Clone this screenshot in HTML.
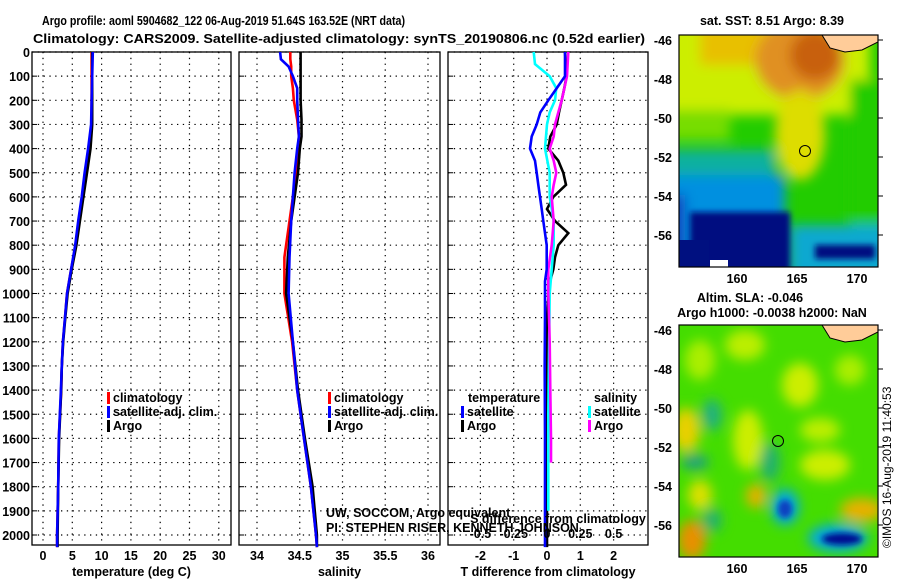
<!DOCTYPE html>
<html><head><meta charset="utf-8"><style>
html,body{margin:0;padding:0;background:#fff;}
svg{display:block;font-family:"Liberation Sans",sans-serif;}
.t{font-size:13px;font-weight:bold;}
.tk{font-size:12.5px;font-weight:bold;}
</style></head><body>
<svg id="fig" width="900" height="580" viewBox="0 0 900 580">
<defs>
<filter id="bl" x="-50%" y="-50%" width="200%" height="200%"><feGaussianBlur stdDeviation="6"/></filter>
<filter id="bl2" x="-50%" y="-50%" width="200%" height="200%"><feGaussianBlur stdDeviation="3"/></filter>
<clipPath id="c1"><rect x="679" y="35" width="199" height="232"/></clipPath>
<clipPath id="c2"><rect x="679" y="325" width="199" height="232"/></clipPath>
</defs>
<text class="t" x="42" y="25" textLength="363" lengthAdjust="spacingAndGlyphs">Argo profile: aoml 5904682_122 06-Aug-2019 51.64S 163.52E (NRT data)</text>
<text class="t" x="33" y="43" textLength="612" lengthAdjust="spacingAndGlyphs">Climatology: CARS2009. Satellite-adjusted climatology: synTS_20190806.nc (0.52d earlier)</text>
<g id="charts"></g>
<g id="maps">
 <g clip-path="url(#c1)">
  <rect x="679" y="35" width="199" height="232" fill="#22cc00"/>
  <g filter="url(#bl)">
   <rect x="660" y="20" width="210" height="95" fill="#ccee00"/>
   <rect x="700" y="25" width="130" height="40" fill="#e8c000"/>
   <ellipse cx="800" cy="60" rx="45" ry="40" fill="#e09020"/>
   <ellipse cx="815" cy="55" rx="25" ry="25" fill="#c86010"/>
   <ellipse cx="800" cy="135" rx="25" ry="45" fill="#dddd00"/>
   <rect x="660" y="110" width="70" height="30" fill="#77dd00"/>
   <rect x="850" y="80" width="40" height="150" fill="#22cc00"/>
   <rect x="660" y="150" width="115" height="60" fill="#10b0a0"/>
   <rect x="660" y="175" width="125" height="100" fill="#0090e0"/>
   <rect x="660" y="195" width="25" height="60" fill="#1040c0"/>
   <rect x="790" y="225" width="100" height="60" fill="#10a8d0"/>
  </g>
  <rect x="690" y="212" width="100" height="60" fill="#001080" filter="url(#bl2)"/>
  <rect x="679" y="240" width="30" height="30" fill="#001080"/>
  <rect x="815" y="245" width="60" height="14" fill="#001080" filter="url(#bl2)"/>
  <path d="M822,35 L878,35 L878,42 L862,50 L845,52 L830,48 Z" fill="#ffcc99" stroke="#000" stroke-width="1"/>
  <rect x="710" y="260" width="18" height="7" fill="#fff"/>
  <circle cx="805" cy="151" r="5.5" fill="none" stroke="#000" stroke-width="1"/>
 </g>
 <rect x="679" y="35" width="199" height="232" fill="none" stroke="#000" stroke-width="1.2"/>
 <g clip-path="url(#c2)">
  <rect x="679" y="325" width="199" height="232" fill="#44dd00"/>
  <g filter="url(#bl)">
   <ellipse cx="700" cy="360" rx="15" ry="20" fill="#aaee00"/>
   <ellipse cx="745" cy="345" rx="20" ry="15" fill="#bbee00"/>
   <ellipse cx="800" cy="385" rx="18" ry="22" fill="#ccee00"/>
   <ellipse cx="850" cy="370" rx="15" ry="15" fill="#aaee00"/>
   <ellipse cx="686" cy="430" rx="14" ry="22" fill="#e8d000"/>
   <ellipse cx="748" cy="440" rx="15" ry="30" fill="#ccee00"/>
   <ellipse cx="820" cy="430" rx="20" ry="12" fill="#bbee00"/>
   <ellipse cx="700" cy="495" rx="12" ry="15" fill="#dde000"/>
   <ellipse cx="756" cy="496" rx="10" ry="12" fill="#e8b000"/>
   <ellipse cx="692" cy="540" rx="14" ry="20" fill="#e89000"/>
   <ellipse cx="862" cy="510" rx="22" ry="12" fill="#e8b000"/>
   <ellipse cx="825" cy="465" rx="25" ry="15" fill="#ccee00"/>
   <ellipse cx="712" cy="415" rx="10" ry="16" fill="#20b080"/>
   <ellipse cx="695" cy="462" rx="14" ry="8" fill="#20a080"/>
   <ellipse cx="770" cy="462" rx="10" ry="20" fill="#20b070"/>
   <ellipse cx="712" cy="520" rx="10" ry="12" fill="#20b070"/>
   <ellipse cx="785" cy="507" rx="14" ry="18" fill="#00a8e0"/>
   <ellipse cx="838" cy="538" rx="30" ry="14" fill="#00a8e0"/>
  </g>
  <ellipse cx="785" cy="509" rx="7" ry="9" fill="#1040c0" filter="url(#bl2)"/>
  <ellipse cx="842" cy="539" rx="20" ry="6" fill="#001090" filter="url(#bl2)"/>
  <path d="M822,325 L878,325 L878,332 L862,340 L845,342 L830,338 Z" fill="#ffcc99" stroke="#000" stroke-width="1"/>
  <circle cx="778" cy="441" r="5.5" fill="none" stroke="#000" stroke-width="1"/>
 </g>
 <rect x="679" y="325" width="199" height="232" fill="none" stroke="#000" stroke-width="1.2"/>
 <text class="tk" x="772" y="25" text-anchor="middle">sat. SST: 8.51  Argo: 8.39</text>
 <text class="tk" x="750" y="302" text-anchor="middle">Altim. SLA: -0.046</text>
 <text class="tk" x="772" y="317" text-anchor="middle">Argo h1000: -0.0038 h2000: NaN</text>
 <text x="891" y="548" font-size="12" transform="rotate(-90 891 548)">©IMOS 16-Aug-2019 11:40:53</text>
</g>
</svg>
<script>
// ---------- data ----------
var depthT = [0,100,200,300,400,500,600,700,800,900,1000,1100,1200,1300,1400,1600,1800,2000,2050];
var tClim  = [8.3,8.3,8.3,8.3,7.9,7.3,6.8,6.1,5.6,4.8,4.1,3.75,3.4,3.2,3.1,2.7,2.6,2.4,2.4];
var tSat   = [8.5,8.4,8.3,8.2,7.7,7.1,6.6,6.0,5.5,4.8,4.1,3.75,3.4,3.2,3.05,2.7,2.6,2.4,2.4];
var tArgo  = [8.4,8.4,8.4,8.4,8.1,7.5,6.9,6.3,5.7,4.9,4.2,3.8,3.45,3.2,3.1,2.75,2.6,2.5,2.5];
var depthS = [0,30,60,100,150,200,280,350,400,500,600,700,850,1000,1200,1400,1600,1800,2000,2050];
var sClim  = [34.39,34.39,34.40,34.40,34.42,34.43,34.47,34.49,34.48,34.46,34.42,34.38,34.32,34.32,34.41,34.47,34.55,34.63,34.69,34.70];
var sSat   = [34.27,34.28,34.37,34.42,34.47,34.47,34.48,34.49,34.47,34.44,34.42,34.40,34.38,34.37,34.42,34.47,34.55,34.63,34.69,34.70];
var sArgo  = [34.51,34.51,34.51,34.51,34.51,34.51,34.52,34.52,34.50,34.48,34.44,34.40,34.36,34.34,34.42,34.48,34.56,34.65,34.70,34.70];
var depthD = [0,100,150,200,250,300,350,400,450,500,550,600,650,700,750,800,850,900,950,1000,1100,1300,1600,1900,2050];
var dTSat  = [0.54,0.54,0.29,0.04,-0.2,-0.31,-0.46,-0.51,-0.36,-0.31,-0.26,-0.21,-0.16,-0.11,-0.06,-0.01,-0.01,-0.01,-0.06,-0.06,-0.06,-0.07,-0.06,-0.06,-0.06];
var dTArgo = [0.54,0.59,0.52,0.44,0.36,0.29,0.1,0.04,0.34,0.49,0.57,0.19,0.0,0.24,0.64,0.34,0.24,0.19,0.09,0.05,0.0,0.0,0.0,0.0,0.0];
var depthDS= [0,50,100,150,200,250,300,400,500,600,700,800,900,1000,1500,1900];
var dSSat  = [-0.1,-0.09,0.02,0.07,0.06,0.02,0.0,-0.015,0.02,0.02,0.05,0.05,0.035,0.02,0.01,0.01];
var depthDM= [0,100,200,250,300,350,400,450,500,550,600,700,800,900,1000,1200,1400,1600,1700];
var dSArgo = [0.16,0.15,0.11,0.085,0.06,0.05,0.02,0.05,0.07,0.05,0.035,0.05,0.035,0.01,0.01,0.02,0.025,0.03,0.03];
var depthTicks = [0,100,200,300,400,500,600,700,800,900,1000,1100,1200,1300,1400,1500,1600,1700,1800,1900,2000];
var tTicks = [0,5,10,15,20,25,30];
var sTicks = [34,34.5,35,35.5,36];
var sTickLabels = ["34","34.5","35","35.5","36"];
var dTicks = [-2,-1,0,1,2];
var dSTicks = [-0.5,-0.25,0,0.25,0.5];
var dSTickLabels = ["-0.5","-0.25","0","0.25","0.5"];
var mapLat = [-46,-48,-50,-52,-54,-56];
var mapLon = [160,165,170];

// ---------- scales ----------
var NS="http://www.w3.org/2000/svg";
var TOP=52, BOT=545;
function yD(d){return TOP + d*0.2415;}
function xT(t){return 43 + t*5.86;}
function xS(s){return 257 + (s-34)*85.5;}
function xD(v){return 547 + v*33.3;}
function xDS(v){return 547 + v*4*33.3;}
var g=document.getElementById('charts');
var mg=document.getElementById('maps');
function el(tag,attrs,parent){var e=document.createElementNS(NS,tag);for(var k in attrs)e.setAttribute(k,attrs[k]);(parent||g).appendChild(e);return e;}
function txt(x,y,s,anchor,cls,parent){var e=el('text',{x:x,y:y,'text-anchor':anchor||'start','class':cls||'tk'},parent);e.textContent=s;return e;}

function panel(name,x0,x1,xs,ticks,labels,xlabel){
  var pg=el('g',{});
  
  
  depthTicks.forEach(function(d){
    var l=el('line',{x1:x0,x2:x1,y1:yD(d),y2:yD(d),stroke:'#000','stroke-width':1.2,'stroke-dasharray':'1.3,4.5'},pg);
    
    
    var tk=el('line',{x1:x0,x2:x0+5,y1:yD(d),y2:yD(d),stroke:'#000'},pg);
    
    
  });
  ticks.forEach(function(v,i){
    var X=xs(v);
    var l=el('line',{x1:X,x2:X,y1:TOP,y2:BOT,stroke:'#000','stroke-width':1.2,'stroke-dasharray':'1.3,4.5'},pg);
    
    
    var t=txt(X,560,labels[i],'middle','tk',pg);
    
    
  });
  var r=el('rect',{x:x0,y:TOP,width:x1-x0,height:BOT-TOP,fill:'none',stroke:'#000','stroke-width':1.3},pg);
  
  
  var xl=txt((x0+x1)/2,576,xlabel,'middle','tk',pg);
  
  
  return pg;
}
function line(pg,depths,vals,xs,color,name){
  var pts=depths.map(function(d,i){return xs(vals[i]).toFixed(1)+','+yD(d).toFixed(1);}).join(' ');
  var p=el('polyline',{points:pts,fill:'none',stroke:color,'stroke-width':2.6},pg);
  
  
}
function legend(pg,x,y,color,label,name){
  var m=el('rect',{x:x,y:y-10,width:3,height:12,fill:color},pg);
  
  
  var t=txt(x+6,y,label,'start','tk',pg);
  
  
}

depthTicks.forEach(function(d){
  var t=txt(30,yD(d)+5,String(d),'end','tk');
  
  
});

var p1=panel('temperature',32,231,xT,tTicks,tTicks.map(String),'temperature (deg C)');
line(p1,depthT,tClim,xT,'#ff0000','temp-climatology-line');
line(p1,depthT,tArgo,xT,'#000000','temp-argo-line');
line(p1,depthT,tSat,xT,'#0000ff','temp-satellite-line');
legend(p1,107,402,'#ff0000','climatology','legend-climatology');
legend(p1,107,416,'#0000ff','satellite-adj. clim.','legend-satellite');
legend(p1,107,430,'#000000','Argo','legend-argo');

var p2=panel('salinity',239,440,xS,sTicks,sTickLabels,'salinity');
line(p2,depthS,sClim,xS,'#ff0000','sal-climatology-line');
line(p2,depthS,sArgo,xS,'#000000','sal-argo-line');
line(p2,depthS,sSat,xS,'#0000ff','sal-satellite-line');
legend(p2,328,402,'#ff0000','climatology','legend-climatology');
legend(p2,328,416,'#0000ff','satellite-adj. clim.','legend-satellite');
legend(p2,328,430,'#000000','Argo','legend-argo');

var p3=panel('difference',448,648,xD,dTicks,dTicks.map(String),'T difference from climatology');
line(p3,depthD,dTArgo,xD,'#000000','dT-argo-line');
line(p3,depthDS,dSSat,xDS,'#00ffff','dS-satellite-line');
line(p3,depthDM,dSArgo,xDS,'#ff00ff','dS-argo-line');
line(p3,depthD,dTSat,xD,'#0000ff','dT-satellite-line');
var lt=txt(468,402,'temperature','start','tk',p3);


var ls=txt(594,402,'salinity','start','tk',p3);


legend(p3,461,416,'#0000ff','satellite','legend-t-satellite');
legend(p3,461,430,'#000000','Argo','legend-t-argo');
legend(p3,588,416,'#00ffff','satellite','legend-s-satellite');
legend(p3,588,430,'#ff00ff','Argo','legend-s-argo');
var st=txt(558,523,'S difference from climatology','middle','tk',p3);


dSTicks.forEach(function(v,i){
  var t=txt(xDS(v),538,dSTickLabels[i],'middle','tk',p3);
  
  
});
var c1=txt(326,517,'UW, SOCCOM, Argo equivalent','start','',g);
c1.setAttribute('font-size','12.5');


var c2=txt(326,532,'PI: STEPHEN RISER, KENNETH JOHNSON','start','',g);
c2.setAttribute('font-size','12.5');



function yLat1(l){return 40 + (-46-l)*19.5;}
function yLat2(l){return 330 + (-46-l)*19.5;}
function xLon(l){return 737 + (l-160)*12;}
[[yLat1,277],[yLat2,567]].forEach(function(m){
  mapLat.forEach(function(l){
    var t=txt(672,m[0](l)+5,String(l),'end','tk',mg);
    
    
    el('line',{x1:878,x2:883,y1:m[0](l),y2:m[0](l),stroke:'#000'},mg);
  });
  mapLon.forEach(function(l){
    var t=txt(xLon(l),m[1]+6,String(l),'middle','tk',mg);
    
    
  });
});
</script>
</body></html>
